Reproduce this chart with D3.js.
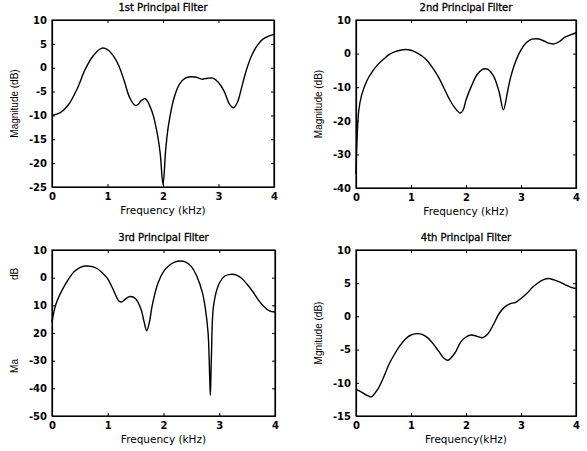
<!DOCTYPE html>
<html>
<head>
<meta charset="utf-8">
<script src="https://cdn.jsdelivr.net/npm/d3@7"></script>
<style>
  body { margin: 0; background: #fff; }
  svg { display: block; font-family: "DejaVu Sans", sans-serif; }
  .tick text { font-weight: bold; }
</style>
</head>
<body>
<div id="chart"></div>
<script>
// frequency (kHz) / magnitude (dB)
const f1 = [0, 0.15, 0.3, 0.45, 0.6, 0.75, 0.9, 1.0, 1.1, 1.2, 1.3, 1.4, 1.5, 1.55, 1.6, 1.68, 1.8, 1.9, 1.95, 2.0, 2.05, 2.1, 2.2, 2.3, 2.4, 2.5, 2.6, 2.7, 2.8, 2.9, 3.0, 3.1, 3.2, 3.27, 3.35, 3.4, 3.5, 3.6, 3.7, 3.8, 3.9, 4.0];
const m1 = [-10, -9.4, -7.7, -4.5, -0.3, 2.6, 4.1, 3.8, 2.6, 0.5, -2.7, -6.3, -7.9, -7.7, -7.0, -6.5, -9.1, -14, -18, -24.5, -17, -12, -6.3, -3.4, -2.2, -1.9, -2.0, -2.4, -2.2, -2.2, -3.1, -4.9, -7.7, -8.4, -7.0, -4.9, -0.6, 2.6, 4.7, 6.0, 6.6, 7.0];

const f2 = [0, 0.02, 0.05, 0.1, 0.2, 0.3, 0.4, 0.5, 0.6, 0.7, 0.8, 0.9, 1.0, 1.1, 1.2, 1.3, 1.4, 1.5, 1.6, 1.7, 1.8, 1.9, 1.95, 2.0, 2.1, 2.2, 2.3, 2.35, 2.4, 2.5, 2.6, 2.68, 2.75, 2.8, 2.9, 3.0, 3.1, 3.2, 3.3, 3.4, 3.5, 3.6, 3.7, 3.8, 3.9, 4.0];
const m2 = [-36, -25, -17, -12.5, -8, -5.3, -3.2, -1.7, -0.3, 0.5, 1.0, 1.2, 1.0, 0.3, -0.7, -2.2, -4.4, -7.0, -10.3, -13.6, -16.2, -17.7, -16.7, -13.8, -9.6, -6.3, -4.7, -4.5, -4.7, -6.6, -11.3, -16.7, -11.8, -7.8, -2.4, 1.1, 3.3, 4.3, 4.4, 3.9, 3.1, 2.9, 3.6, 4.9, 5.6, 6.2];

const f3 = [0, 0.05, 0.1, 0.2, 0.3, 0.4, 0.5, 0.6, 0.7, 0.8, 0.9, 1.0, 1.1, 1.2, 1.25, 1.3, 1.4, 1.5, 1.6, 1.65, 1.7, 1.75, 1.8, 1.9, 2.0, 2.1, 2.2, 2.3, 2.4, 2.5, 2.6, 2.7, 2.75, 2.8, 2.82, 2.84, 2.86, 2.9, 3.0, 3.1, 3.2, 3.3, 3.4, 3.5, 3.6, 3.7, 3.8, 3.9, 4.0];
const m3 = [-16, -11, -8, -3.8, -0.4, 2.2, 3.6, 4.2, 4.1, 3.4, 1.8, -0.4, -4.4, -8.4, -8.8, -8.0, -6.8, -7.6, -11.6, -15.8, -19.2, -15.8, -9.8, -2.0, 2.2, 4.4, 5.6, 6.0, 5.6, 4.0, 0.4, -5.6, -11, -20, -30, -42.5, -28, -9.8, -2.0, 0.6, 1.2, 1.0, -0.2, -2.4, -5.0, -8.0, -10.4, -12.0, -12.4];

const f4 = [0, 0.1, 0.2, 0.28, 0.4, 0.5, 0.6, 0.7, 0.8, 0.9, 1.0, 1.1, 1.2, 1.3, 1.4, 1.5, 1.6, 1.67, 1.8, 1.9, 2.0, 2.1, 2.2, 2.3, 2.4, 2.5, 2.6, 2.7, 2.8, 2.9, 3.0, 3.1, 3.2, 3.3, 3.4, 3.5, 3.6, 3.7, 3.8, 3.9, 4.0];
const m4 = [-11.0, -11.4, -11.9, -12.1, -10.9, -9.2, -7.2, -5.7, -4.4, -3.4, -2.8, -2.6, -2.7, -3.2, -4.1, -5.2, -6.3, -6.6, -5.5, -3.9, -3.1, -2.8, -3.0, -3.2, -2.6, -1.2, 0.4, 1.4, 1.9, 2.1, 2.7, 3.4, 4.3, 5.0, 5.5, 5.7, 5.5, 5.2, 4.8, 4.4, 4.2];

const xTicks = [0, 1, 2, 3, 4];
const yTicks1 = [10, 5, 0, -5, -10, -15, -20, -25];
const yTicks2 = [10, 0, -10, -20, -30, -40];
const yTicks3 = [10, 0, -10, -20, -30, -40, -50];
const yLabels3 = ["10", "0", "10", "20", "-30", "-40", "-50"];   // as printed
const yTicks4 = [10, 5, 0, -5, -10, -15];

const titles = ["1st Principal Filter", "2nd Principal Filter", "3rd Principal Filter", "4th Principal Filter"];

const W = 587, H = 451;
const svg = d3.select("#chart").append("svg").attr("width", W).attr("height", H);

const panels = [
  { f: f1, m: m1, yd: [-25, 10], yt: yTicks1, box: [52, 20, 274, 187], title: titles[0], xlab: "Frequency (kHz)", ylab: "Magnitude (dB)" },
  { f: f2, m: m2, yd: [-40, 10], yt: yTicks2, box: [356, 20, 576, 188], title: titles[1], xlab: "Frequency (kHz)", ylab: "Magnitude (dB)" },
  { f: f3, m: m3, yd: [-50, 10], yt: yTicks3, yl: yLabels3, box: [52, 250, 275, 416], title: titles[2], xlab: "Frequency (kHz)", ylab: null },
  { f: f4, m: m4, yd: [-15, 10], yt: yTicks4, box: [356, 250, 576, 416], title: titles[3], xlab: "Frequency(kHz)", ylab: "Mgnitude (dB)" }
];

panels.forEach((p, i) => {
  const [x0, y0, x1, y1] = p.box;
  const x = d3.scaleLinear().domain([0, 4]).range([x0, x1]);
  const y = d3.scaleLinear().domain(p.yd).range([y1, y0]);
  const g = svg.append("g");

  // box with inward ticks on all four sides
  const fmtY = p.yl ? (d => p.yl[p.yt.indexOf(d)]) : (d => String(d));

  g.append("g").attr("transform", `translate(0,${y1})`)
    .call(d3.axisBottom(x).tickValues(xTicks).tickSizeInner(-3).tickSizeOuter(0).tickPadding(6).tickFormat(d => String(d)));
  g.append("g").attr("transform", `translate(0,${y0})`)
    .call(d3.axisTop(x).tickValues(xTicks).tickSizeInner(-3).tickSizeOuter(0).tickFormat(""));
  g.append("g").attr("transform", `translate(${x0},0)`)
    .call(d3.axisLeft(y).tickValues(p.yt).tickSizeInner(-3).tickSizeOuter(0).tickPadding(5).tickFormat(fmtY));
  g.append("g").attr("transform", `translate(${x1},0)`)
    .call(d3.axisRight(y).tickValues(p.yt).tickSizeInner(-3).tickSizeOuter(0).tickFormat(""));

  g.selectAll(".domain").attr("stroke", "#000").attr("stroke-width", 1.2);
  g.selectAll(".tick line").attr("stroke", "#000");
  g.selectAll(".tick text").attr("font-size", 10).attr("fill", "#000")
    .attr("font-family", "DejaVu Sans");

  g.append("rect").attr("x", x0).attr("y", y0).attr("width", x1 - x0).attr("height", y1 - y0)
    .attr("fill", "none").attr("stroke", "#000").attr("stroke-width", 1.2);

  const line = d3.line().x(d => x(d[0])).y(d => y(d[1])).curve(d3.curveCatmullRom.alpha(0.5));
  g.append("path").datum(p.f.map((f, k) => [f, p.m[k]]))
    .attr("d", line).attr("fill", "none").attr("stroke", "#000").attr("stroke-width", 1.4);

  const cx = (x0 + x1) / 2;
  g.append("text").attr("x", cx).attr("y", y0 - 9).attr("text-anchor", "middle")
    .attr("font-size", 10).attr("stroke", "#000").attr("stroke-width", 0.3).text(p.title);
  g.append("text").attr("x", cx).attr("y", y1 + 27).attr("text-anchor", "middle")
    .attr("font-size", 10.5).text(p.xlab);

  const ly = (y0 + y1) / 2;
  const lx = x0 - 34;
  const yfont = "'Liberation Sans', Arial, sans-serif";
  if (p.ylab) {
    g.append("text").attr("transform", `translate(${lx},${ly}) rotate(-90)`)
      .attr("text-anchor", "middle").attr("font-size", 10).attr("font-family", yfont).text(p.ylab);
  } else {
    // label partly lost in the print: only "Ma" and "dB" remain
    g.append("text").attr("transform", `translate(${lx},${y0 + 116}) rotate(-90)`)
      .attr("text-anchor", "middle").attr("font-size", 10).attr("font-family", yfont).text("Ma");
    g.append("text").attr("transform", `translate(${lx},${y0 + 24}) rotate(-90)`)
      .attr("text-anchor", "middle").attr("font-size", 10).attr("font-family", yfont).text("dB");
  }
});
</script>
</body>
</html>
